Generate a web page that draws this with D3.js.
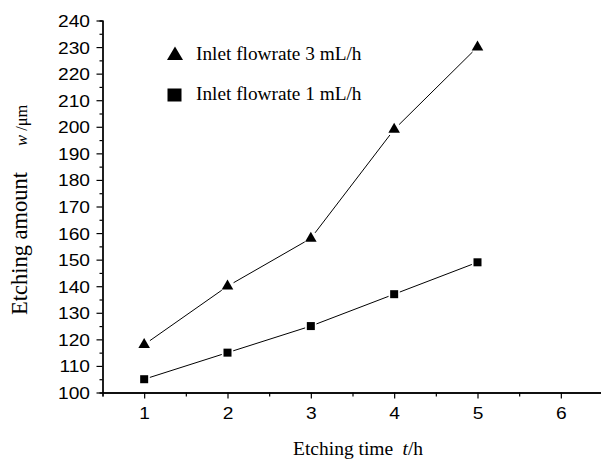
<!DOCTYPE html>
<html><head><meta charset="utf-8">
<script src="https://cdn.jsdelivr.net/npm/d3@7"></script>
<style>body{margin:0;background:#fff}svg{display:block}</style>
</head><body>
<svg id="c" width="601" height="464"></svg>
<script>
const times = [1, 2, 3, 4, 5];
const flow3 = [118, 140, 158, 199, 230];
const flow1 = [105, 115, 125, 137, 149];
const xTicks = [1, 2, 3, 4, 5, 6];
const yTicks = [100,110,120,130,140,150,160,170,180,190,200,210,220,230,240];
const legendLabels = ["Inlet flowrate 3 mL/h", "Inlet flowrate 1 mL/h"];

const svg = d3.select("#c");
const x = d3.scaleLinear().domain([0.5, 6.5]).range([102.5, 602.5]);
const y = d3.scaleLinear().domain([100, 240]).range([392.5, 20.5]);
const SX = 1.13;

// axes
const gx = svg.append("g").attr("transform", "translate(0,392.5)");
gx.call(d3.axisBottom(x).tickValues(xTicks).tickSize(6).tickSizeOuter(0).tickFormat(d3.format("d")));
gx.append("g").call(d3.axisBottom(x).tickValues(d3.range(0.5, 6.6, 1)).tickSize(4).tickFormat(""));
const gy = svg.append("g").attr("transform", "translate(102.5,0)");
gy.call(d3.axisLeft(y).tickValues(yTicks).tickSize(6).tickSizeOuter(0).tickFormat(d3.format("d")));
gy.append("g").call(d3.axisLeft(y).tickValues(d3.range(105, 240, 10)).tickSize(3).tickFormat(""));
svg.selectAll(".domain").attr("stroke", "#000").attr("stroke-width", 1.3);
svg.selectAll(".tick line").attr("stroke", "#000").attr("stroke-width", 1.2);
gx.selectAll(".tick text").attr("font-family", "Liberation Sans, Arial, sans-serif").attr("font-size", 17).attr("fill", "#000")
  .attr("dy", 0).attr("y", 26.5).attr("x", 0).attr("transform", `scale(${SX},1)`);
gy.selectAll(".tick text").attr("font-family", "Liberation Sans, Arial, sans-serif").attr("font-size", 17).attr("fill", "#000")
  .attr("x", -12.5 / SX).attr("dy", "0.35em").attr("transform", `scale(${SX},1)`);

// series lines with gaps near markers
function drawSeries(vals, gap) {
  const pts = times.map((t, i) => [x(t), y(vals[i])]);
  for (let i = 0; i < pts.length - 1; i++) {
    const [x1, y1] = pts[i], [x2, y2] = pts[i + 1];
    const dx = x2 - x1, dy = y2 - y1, L = Math.hypot(dx, dy);
    svg.append("line")
      .attr("x1", x1 + dx / L * gap).attr("y1", y1 + dy / L * gap)
      .attr("x2", x2 - dx / L * gap).attr("y2", y2 - dy / L * gap)
      .attr("stroke", "#000").attr("stroke-width", 1);
  }
}
drawSeries(flow3, 7);
drawSeries(flow1, 6);

const tri = d3.symbol().type(d3.symbolTriangle).size(58);
svg.selectAll(".tri").data(flow3).join("path")
  .attr("d", tri).attr("transform", (d, i) => `translate(${x(times[i])},${y(d)})`).attr("fill", "#000");
svg.selectAll(".sq").data(flow1).join("rect")
  .attr("x", (d, i) => x(times[i]) - 4).attr("y", d => y(d) - 4)
  .attr("width", 8).attr("height", 8).attr("fill", "#000");

// legend
const lg = svg.append("g");
lg.append("path").attr("d", "M175,46.5L183,60L167,60Z").attr("fill", "#000");
lg.append("rect").attr("x", 167.5).attr("y", 88.5).attr("width", 14).attr("height", 13).attr("fill", "#000");
lg.selectAll("text").data(legendLabels).join("text")
  .attr("x", 196).attr("y", (d, i) => 60 + i * 40)
  .attr("font-family", "Liberation Serif, Times New Roman, serif").attr("font-size", 19.3).attr("fill", "#000")
  .text(d => d);

// axis titles
const xt = svg.append("text").attr("x", 293).attr("y", 455)
  .attr("font-family", "Liberation Serif, Times New Roman, serif").attr("font-size", 19.5).attr("fill", "#000");
xt.append("tspan").text("Etching time");
xt.append("tspan").attr("x", 402.5).attr("font-style", "italic").text("t");
xt.append("tspan").text("/h");

const yt = svg.append("text").attr("transform", "translate(27,315) rotate(-90)")
  .attr("font-family", "Liberation Serif, Times New Roman, serif").attr("fill", "#000");
yt.append("tspan").attr("x", 0).attr("font-size", 22.5).text("Etching amount");
yt.append("tspan").attr("x", 169).attr("font-size", 16.5).attr("font-style", "italic").text("w");
yt.append("tspan").attr("font-size", 16.5).text(" /μm");
</script>
</body></html>
